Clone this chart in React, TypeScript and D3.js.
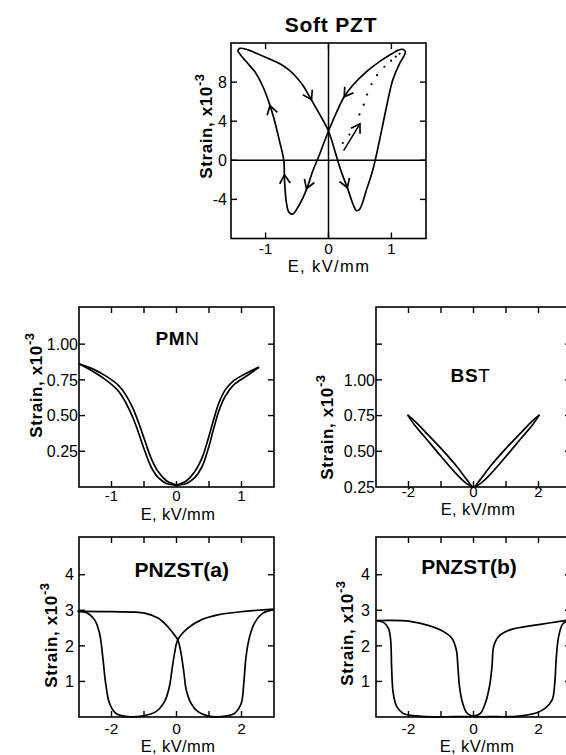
import React, { useEffect } from 'react';
import * as d3 from 'd3';

type P = [number, number];

// ---------- Soft PZT ----------
const PZT_LOOP: P[] = [
  [-1.44, 11.2], [-1.41, 11.45], [-1.28, 11.3], [-1.15, 10.95], [-0.95, 10.4], [-0.78, 9.9],
  [-0.62, 9.2], [-0.51, 8.5], [-0.4, 7.6], [-0.3, 6.5], [-0.14, 4.7], [0.0, 3.0],
  [0.1, 0.98], [0.2, -1.1], [0.31, -3.0], [0.39, -4.5], [0.44, -5.13], [0.48, -5.1],
  [0.52, -4.7], [0.6, -3.1], [0.7, -1.1], [0.81, 2.0], [0.92, 5.4], [1.02, 8.2],
  [1.13, 9.9], [1.21, 10.8], [1.22, 11.15], [1.18, 11.35], [1.1, 11.25], [1.02, 10.95],
  [0.81, 10.1], [0.6, 9.05], [0.39, 7.7], [0.25, 6.5], [0.12, 4.8], [0.0, 3.0],
  [-0.14, 0.64], [-0.25, -1.1], [-0.35, -3.0], [-0.46, -4.5], [-0.57, -5.5], [-0.63, -5.3],
  [-0.67, -4.3], [-0.7, -2.0], [-0.71, -0.05], [-0.78, 2.0], [-0.86, 4.1], [-0.94, 5.8],
  [-1.04, 7.5], [-1.17, 9.05], [-1.31, 10.1], [-1.4, 10.8],
];
const PZT_DOTS: P[] = [
  [0.227, 1.77], [0.333, 2.63], [0.492, 4.69], [0.561, 5.69], [0.614, 6.72], [0.683, 7.78],
  [0.772, 8.71], [0.889, 9.57], [0.995, 10.19], [1.07, 10.6], [1.13, 10.9],
];
// tipX, tipY, fromX, fromY
const PZT_ARROWS: [number, number, number, number][] = [
  [-0.27, 6.2, -0.36, 7.3],
  [0.25, 6.5, 0.37, 7.6],
  [-0.7, -1.5, -0.685, -3.0],
  [-0.35, -2.9, -0.27, -1.5],
  [0.3, -2.8, 0.22, -1.4],
  [-0.93, 5.6, -0.87, 4.2],
];
const PZT_INIT_ARROW: P[] = [[0.24, 0.98], [0.5, 3.73]];
const PZT_XTICKS = [-1, 0, 1];
const PZT_YTICKS = [-4, 0, 4, 8];

// ---------- PMN ----------
const PMN_BRANCH_A: P[] = [
  [-1.5, 0.862], [-1.29, 0.827], [-1.09, 0.778], [-0.9, 0.715], [-0.78, 0.645], [-0.67, 0.551],
  [-0.58, 0.446], [-0.49, 0.329], [-0.39, 0.201], [-0.28, 0.107], [-0.155, 0.044], [-0.05, 0.021],
  [0.0, 0.014], [0.05, 0.015], [0.155, 0.025], [0.28, 0.065], [0.39, 0.14], [0.49, 0.27],
  [0.57, 0.405], [0.65, 0.53], [0.75, 0.635], [0.88, 0.715], [1.09, 0.78], [1.27, 0.839],
];
const PMN_BRANCH_B: P[] = [
  [-1.5, 0.862], [-1.29, 0.81], [-1.09, 0.75], [-0.9, 0.675], [-0.78, 0.59], [-0.67, 0.485],
  [-0.58, 0.375], [-0.49, 0.255], [-0.39, 0.14], [-0.28, 0.065], [-0.155, 0.025], [-0.05, 0.015],
  [0.0, 0.014], [0.05, 0.021], [0.155, 0.044], [0.28, 0.107], [0.39, 0.2], [0.49, 0.341],
  [0.57, 0.47], [0.65, 0.586], [0.75, 0.68], [0.88, 0.745], [1.09, 0.8], [1.27, 0.839],
];
const PMN_XTICKS = [-1, -0.5, 0, 0.5, 1];
const PMN_XLABELS = [-1, 0, 1];
const PMN_YTICKS = [0.25, 0.5, 0.75, 1.0];

// ---------- BST ----------
const BST_UPPER: P[] = [
  [-2.03, 0.755], [-1.8, 0.71], [-1.5, 0.64], [-1.0, 0.52], [-0.5, 0.39], [-0.2, 0.3], [0.0, 0.25],
  [0.2, 0.3], [0.5, 0.39], [1.0, 0.52], [1.5, 0.64], [1.8, 0.71], [2.03, 0.755],
];
const BST_LOWER: P[] = [
  [-2.03, 0.755], [-1.8, 0.68], [-1.5, 0.6], [-1.0, 0.465], [-0.5, 0.335], [-0.2, 0.272], [0.0, 0.25],
  [0.2, 0.272], [0.5, 0.335], [1.0, 0.465], [1.5, 0.6], [1.8, 0.68], [2.03, 0.755],
];
const BST_XTICKS = [-2, -1, 0, 1, 2];
const BST_XLABELS = [-2, 0, 2];
const BST_YTICKS = [0.5, 0.75, 1.0, 1.25];
const BST_YLABELS = [0.25, 0.5, 0.75, 1.0];

// ---------- PNZST(a) ----------
const PNA_UP: P[] = [
  [-3.04, 2.97], [-2.01, 2.96], [-0.98, 2.92], [-0.57, 2.78], [-0.32, 2.59], [-0.11, 2.36],
  [0.04, 2.17], [0.14, 1.79], [0.23, 1.23], [0.3, 0.76], [0.45, 0.38], [0.66, 0.15],
  [0.96, 0.03], [1.37, 0.01], [1.78, 0.1], [1.99, 0.38], [2.07, 0.95], [2.14, 1.7],
  [2.25, 2.26], [2.4, 2.64], [2.66, 2.92], [3.0, 3.02],
];
const PNA_DOWN: P[] = [
  [3.0, 3.03], [2.09, 2.97], [1.27, 2.87], [0.76, 2.73], [0.35, 2.5], [0.04, 2.17],
  [-0.06, 1.79], [-0.14, 1.32], [-0.22, 0.85], [-0.37, 0.43], [-0.63, 0.15], [-1.04, 0.03],
  [-1.5, 0.01], [-1.86, 0.1], [-2.06, 0.38], [-2.18, 0.95], [-2.27, 1.7], [-2.37, 2.36],
  [-2.52, 2.73], [-2.78, 2.94], [-3.04, 2.97],
];
const PNZ_XTICKS = [-2, -1, 0, 1, 2];
const PNZ_XLABELS = [-2, 0, 2];
const PNZ_YTICKS = [1, 2, 3, 4];

// ---------- PNZST(b) ----------
const PNB_UP: P[] = [
  [-2.98, 2.71], [-1.95, 2.69], [-1.34, 2.56], [-0.92, 2.4], [-0.67, 2.22], [-0.53, 1.89],
  [-0.48, 1.42], [-0.43, 0.85], [-0.33, 0.38], [-0.21, 0.12], [-0.05, 0.03], [0.62, 0.01],
  [1.34, 0.02], [1.95, 0.12], [2.2, 0.24], [2.42, 0.48], [2.5, 0.95], [2.55, 1.7],
  [2.62, 2.26], [2.75, 2.62], [3.0, 2.74],
];
const PNB_DOWN: P[] = [
  [3.0, 2.74], [1.95, 2.59], [1.13, 2.45], [0.77, 2.26], [0.62, 1.98], [0.57, 1.42],
  [0.49, 0.85], [0.36, 0.38], [0.21, 0.1], [0.05, 0.03], [-0.62, 0.01], [-1.44, 0.01],
  [-2.16, 0.1], [-2.36, 0.29], [-2.47, 0.67], [-2.52, 1.42], [-2.55, 2.17], [-2.62, 2.5],
  [-2.77, 2.66], [-2.98, 2.71],
];

const FONT = '"Liberation Sans", Arial, Helvetica, sans-serif';

type PanelCfg = {
  x0: number; x1: number; y0: number; y1: number;
  xDom: [number, number]; yDom: [number, number];
  xTicks: number[]; xLabels: number[]; xFmt: (v: number) => string;
  yTicks: number[]; yLabels: number[]; yFmt: (v: number) => string;
  xLabBase: number; yLabEnd: number;
  eX: number; eBase: number;
  sBase: number; sCenter: number;
  ls?: number;
  tickFs?: number;
};

const minus = (v: number) => (v < 0 ? '-' + Math.abs(v) : String(v));
const f2 = d3.format('.2f');

function Frame({ c, children }: { c: PanelCfg; children?: any }) {
  const x = d3.scaleLinear().domain(c.xDom).range([c.x0, c.x1]);
  const y = d3.scaleLinear().domain(c.yDom).range([c.y1, c.y0]);
  const T = 6;
  return (
    <g>
      {children && children(x, y)}
      <rect x={c.x0} y={c.y0} width={c.x1 - c.x0} height={c.y1 - c.y0} fill="none" stroke="#000" strokeWidth={1.6} />
      {c.xTicks.map((t, i) => (
        <g key={'xt' + i}>
          <line x1={x(t)} x2={x(t)} y1={c.y1} y2={c.y1 - T} stroke="#000" strokeWidth={1.4} />
          <line x1={x(t)} x2={x(t)} y1={c.y0} y2={c.y0 + T} stroke="#000" strokeWidth={1.4} />
        </g>
      ))}
      {c.yTicks.map((t, i) => (
        <g key={'yt' + i}>
          <line x1={c.x0} x2={c.x0 + T} y1={y(t)} y2={y(t)} stroke="#000" strokeWidth={1.4} />
          <line x1={c.x1} x2={c.x1 - T} y1={y(t)} y2={y(t)} stroke="#000" strokeWidth={1.4} />
        </g>
      ))}
      {c.xLabels.map((t, i) => (
        <text key={'xl' + i} x={x(t)} y={c.xLabBase} textAnchor="middle" fontFamily={FONT} fontSize={c.tickFs ?? 15.5}>
          {c.xFmt(t)}
        </text>
      ))}
      {c.yLabels.map((t, i) => (
        <text key={'yl' + i} x={c.yLabEnd} y={y(t)} dy="0.36em" textAnchor="end" fontFamily={FONT} fontSize={16}>
          {c.yFmt(t)}
        </text>
      ))}
      <text x={c.eX} y={c.eBase} textAnchor="middle" fontFamily={FONT} fontSize={16.5} letterSpacing={c.ls ?? 0.4}>
        E, kV/mm
      </text>
      <text transform={`translate(${c.sBase},${c.sCenter}) rotate(-90)`} textAnchor="middle" fontFamily={FONT} fontSize={17} fontWeight="bold" letterSpacing={0.6}>
        Strain, x10<tspan dy={-8} fontSize={13}>-3</tspan>
      </text>
    </g>
  );
}

const lineGen = (x: any, y: any) =>
  d3.line<P>().x(d => x(d[0])).y(d => y(d[1])).curve(d3.curveCatmullRom.alpha(0.5));

function arrowHead(x: any, y: any, a: [number, number, number, number], L = 10, ang = 32) {
  const tx = x(a[0]), ty = y(a[1]), fx = x(a[2]), fy = y(a[3]);
  const dx = tx - fx, dy = ty - fy;
  const n = Math.hypot(dx, dy);
  const ux = dx / n, uy = dy / n;
  const r = (ang * Math.PI) / 180;
  const w1x = tx - L * (ux * Math.cos(r) - uy * Math.sin(r));
  const w1y = ty - L * (ux * Math.sin(r) + uy * Math.cos(r));
  const w2x = tx - L * (ux * Math.cos(-r) - uy * Math.sin(-r));
  const w2y = ty - L * (ux * Math.sin(-r) + uy * Math.cos(-r));
  return `M${w1x},${w1y}L${tx},${ty}L${w2x},${w2y}`;
}

export default function App() {
  useEffect(() => {
    document.body.style.margin = '0';
  }, []);

  const pzt: PanelCfg = {
    x0: 231, x1: 426, y0: 43, y1: 238.5, xDom: [-1.55, 1.55], yDom: [-8, 12],
    xTicks: PZT_XTICKS, xLabels: PZT_XTICKS, xFmt: minus,
    yTicks: PZT_YTICKS, yLabels: PZT_YTICKS, yFmt: minus,
    xLabBase: 254, yLabEnd: 227, eX: 329, eBase: 272, sBase: 212, sCenter: 126, ls: 1.4,
  };
  const pmn: PanelCfg = {
    x0: 79, x1: 274, y0: 307, y1: 487, xDom: [-1.5, 1.5], yDom: [0, 1.26],
    xTicks: PMN_XTICKS, xLabels: PMN_XLABELS, xFmt: minus,
    yTicks: PMN_YTICKS, yLabels: PMN_YTICKS, yFmt: f2,
    xLabBase: 500.5, yLabEnd: 78, eX: 178, eBase: 519.5, sBase: 42, sCenter: 385, tickFs: 15,
  };
  const bst: PanelCfg = {
    x0: 376, x1: 571, y0: 307, y1: 487, xDom: [-3, 3], yDom: [0.25, 1.51],
    xTicks: BST_XTICKS, xLabels: BST_XLABELS, xFmt: minus,
    yTicks: BST_YTICKS, yLabels: BST_YLABELS, yFmt: f2,
    xLabBase: 497, yLabEnd: 375, eX: 478, eBase: 514.5, sBase: 333, sCenter: 427, tickFs: 15,
  };
  const pna: PanelCfg = {
    x0: 79, x1: 274, y0: 537, y1: 717, xDom: [-3, 3], yDom: [0, 5.06],
    xTicks: PNZ_XTICKS, xLabels: PNZ_XLABELS, xFmt: minus,
    yTicks: PNZ_YTICKS, yLabels: PNZ_YTICKS, yFmt: minus,
    xLabBase: 734, yLabEnd: 74, eX: 178, eBase: 752, sBase: 57, sCenter: 635,
  };
  const pnb: PanelCfg = {
    x0: 376, x1: 571, y0: 537, y1: 717, xDom: [-3, 3], yDom: [0, 5.06],
    xTicks: PNZ_XTICKS, xLabels: PNZ_XLABELS, xFmt: minus,
    yTicks: PNZ_YTICKS, yLabels: PNZ_YTICKS, yFmt: minus,
    xLabBase: 734, yLabEnd: 370, eX: 477, eBase: 752, sBase: 353, sCenter: 633,
  };

  const curveStyle = { fill: 'none', stroke: '#000', strokeWidth: 1.7 } as const;

  return (
    <svg width={566} height={755} style={{ display: 'block', background: '#fff' }} xmlns="http://www.w3.org/2000/svg">
      <rect width={566} height={755} fill="#fff" />
      {/* Soft PZT */}
      <text x={331} y={32} textAnchor="middle" fontFamily={FONT} fontSize={21} fontWeight="bold" letterSpacing={0.8}>Soft PZT</text>
      <Frame c={pzt}>
        {(x: any, y: any) => {
          const closed = d3.line<P>().x(d => x(d[0])).y(d => y(d[1])).curve(d3.curveCatmullRomClosed.alpha(0.5));
          return (
            <g>
              <line x1={x(0)} x2={x(0)} y1={pzt.y0} y2={pzt.y1} stroke="#000" strokeWidth={1.5} />
              <line x1={pzt.x0} x2={pzt.x1} y1={y(0)} y2={y(0)} stroke="#000" strokeWidth={1.5} />
              <path d={closed(PZT_LOOP) || ''} {...curveStyle} />
              {PZT_DOTS.map((d, i) => (
                <circle key={i} cx={x(d[0])} cy={y(d[1])} r={1.1} fill="#000" />
              ))}
              <line x1={x(PZT_INIT_ARROW[0][0])} y1={y(PZT_INIT_ARROW[0][1])} x2={x(PZT_INIT_ARROW[1][0])} y2={y(PZT_INIT_ARROW[1][1])} stroke="#000" strokeWidth={1.5} />
              <path d={arrowHead(x, y, [PZT_INIT_ARROW[1][0], PZT_INIT_ARROW[1][1], PZT_INIT_ARROW[0][0], PZT_INIT_ARROW[0][1]])} {...curveStyle} />
              {PZT_ARROWS.map((a, i) => (
                <path key={i} d={arrowHead(x, y, a)} {...curveStyle} />
              ))}
            </g>
          );
        }}
      </Frame>

      {/* PMN */}
      <Frame c={pmn}>
        {(x: any, y: any) => (
          <g>
            <path d={lineGen(x, y)(PMN_BRANCH_A) || ''} {...curveStyle} />
            <path d={lineGen(x, y)(PMN_BRANCH_B) || ''} {...curveStyle} />
          </g>
        )}
      </Frame>
      <text x={177.5} y={345} textAnchor="middle" fontFamily={FONT} fontSize={19} letterSpacing={0.6}>
        <tspan fontWeight="bold">PM</tspan><tspan>N</tspan>
      </text>

      {/* BST */}
      <Frame c={bst}>
        {(x: any, y: any) => (
          <g>
            <path d={lineGen(x, y)(BST_UPPER) || ''} {...curveStyle} />
            <path d={lineGen(x, y)(BST_LOWER) || ''} {...curveStyle} />
          </g>
        )}
      </Frame>
      <text x={470.5} y={382} textAnchor="middle" fontFamily={FONT} fontSize={19} letterSpacing={0.6}>
        <tspan fontWeight="bold">BS</tspan><tspan>T</tspan>
      </text>

      {/* PNZST(a) */}
      <Frame c={pna}>
        {(x: any, y: any) => (
          <g>
            <path d={lineGen(x, y)(PNA_UP) || ''} {...curveStyle} />
            <path d={lineGen(x, y)(PNA_DOWN) || ''} {...curveStyle} />
          </g>
        )}
      </Frame>
      <text x={181.7} y={577} textAnchor="middle" fontFamily={FONT} fontSize={21} fontWeight="bold">PNZST(a)</text>

      {/* PNZST(b) */}
      <Frame c={pnb}>
        {(x: any, y: any) => (
          <g>
            <path d={lineGen(x, y)(PNB_UP) || ''} {...curveStyle} />
            <path d={lineGen(x, y)(PNB_DOWN) || ''} {...curveStyle} />
          </g>
        )}
      </Frame>
      <text x={469} y={573.5} textAnchor="middle" fontFamily={FONT} fontSize={21} fontWeight="bold">PNZST(b)</text>
    </svg>
  );
}
